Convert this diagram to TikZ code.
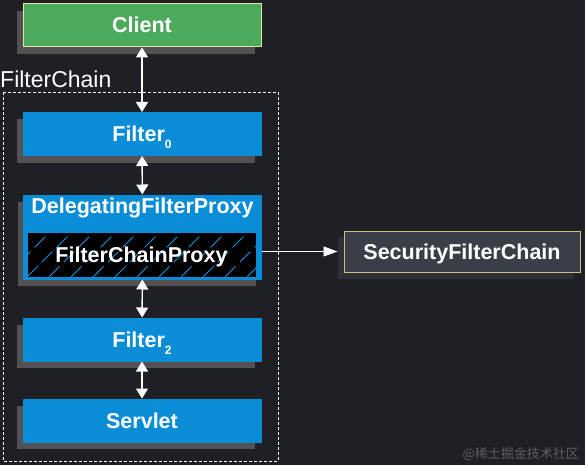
\documentclass[tikz,border=0pt]{standalone}
\usepackage{fontspec}
\setmainfont{Liberation Sans}
\newfontfamily\cjkfont{Noto Sans CJK SC}
\usetikzlibrary{arrows.meta,shadows}
\usepackage{xcolor}

\definecolor{bgdark}{RGB}{30,32,37}
\definecolor{springblue}{RGB}{10,140,215}
\definecolor{hatchblue}{RGB}{15,150,228}
\definecolor{clientgreen}{RGB}{76,170,92}
\definecolor{paleyellow}{RGB}{232,228,160}
\definecolor{slategray}{RGB}{58,62,70}
\definecolor{shadowgray}{RGB}{82,82,84}
\definecolor{darkshadow}{RGB}{46,48,53}
\definecolor{markgray}{RGB}{92,94,98}

\newcommand{\lowidx}[1]{\raisebox{-7pt}{\fontsize{12}{13}\selectfont #1}}

\begin{document}
\begin{tikzpicture}
      [x = 1pt, y = -1pt,
      boxfont/.style = {font = \fontsize{21.5}{25}\selectfont\bfseries},
      box/.style = {
         boxfont,
         draw = springblue,
         fill = springblue,
         line width = 1pt,
         text = white,
         inner sep = 0pt,
         minimum width = 238pt,
         minimum height = 43pt,
         text height = 15pt,
         text depth = 0pt,
         general shadow = {fill = shadowgray, shadow xshift = -6pt, shadow yshift = -7pt}
      },
      hatchline/.style = {
         hatchblue,
         line width = 0.8pt,
         dash pattern = on 15pt off 6pt
      },
      hatched/.style = {
         boxfont,
         draw = springblue,
         fill = black,
         line width = 1pt,
         text = white,
         inner sep = 0pt,
         minimum width = 229pt,
         minimum height = 45pt,
         text height = 15pt,
         text depth = 0pt,
         path picture = {
            \foreach \x in {-66, -44, ..., 242}
               \draw[hatchline] ([xshift = \x pt]path picture bounding box.south west)
                  -- ++(60, -60);
         }
      },
      biarrow/.style = {
         white,
         line width = 1.4pt,
         {Triangle[width = 12pt, length = 10pt]}-{Triangle[width = 12pt, length = 10pt]}
      },
      thinarrow/.style = {
         white,
         line width = 0.8pt,
         -{Triangle[width = 10pt, length = 14pt]}
      }]

      % background
      \fill[bgdark] (0, 0) rectangle (585, 465);
      \useasboundingbox (0, 0) rectangle (585, 465);

      % filter chain frame
      \draw[white, line width = 0.8pt, dash pattern = on 3pt off 2pt]
         (3, 92) rectangle (278, 461);
      \node[anchor = base west, inner sep = 0pt, text = white,
            font = \fontsize{23}{27}\selectfont] (chainlabel) at (0, 88) {FilterChain};

      \node[box, fill = clientgreen, draw = paleyellow] (client) at (142, 25.5) {Client};
      \node[box] (filter0) at (142, 134) {Filter\lowidx{0}};
      \node[box, minimum height = 84pt, text height = 18pt, text depth = 66pt]
         (delegating) at (142.5, 237) {DelegatingFilterProxy};
      \node[hatched] (fcproxy) at (141.5, 254.5) {FilterChainProxy};
      \node[box] (filter2) at (142, 339.5) {Filter\lowidx{2}};
      \node[box] (servlet) at (142, 420.5) {Servlet};

      \node[box, fill = slategray, draw = paleyellow!85!black, minimum width = 236pt,
            minimum height = 41pt,
            general shadow = {fill = darkshadow, shadow xshift = -6pt, shadow yshift = -7pt}]
         (sfc) at (462, 251.5) {SecurityFilterChain};

      \draw[biarrow] (client) -- (filter0);
      \draw[biarrow] (filter0) -- (delegating);
      \draw[biarrow] (delegating) -- (filter2);
      \draw[biarrow] (filter2) -- (servlet);
      \draw[thinarrow, shorten > = 6pt] (sfc.west -| delegating.east) -- (sfc.west);

      \node[anchor = base east, inner sep = 0pt, text = markgray,
            font = \cjkfont\fontsize{13}{15}\selectfont] (watermark) at (579, 458)
         {@稀土掘金技术社区};

   \end{tikzpicture}
\end{document}
